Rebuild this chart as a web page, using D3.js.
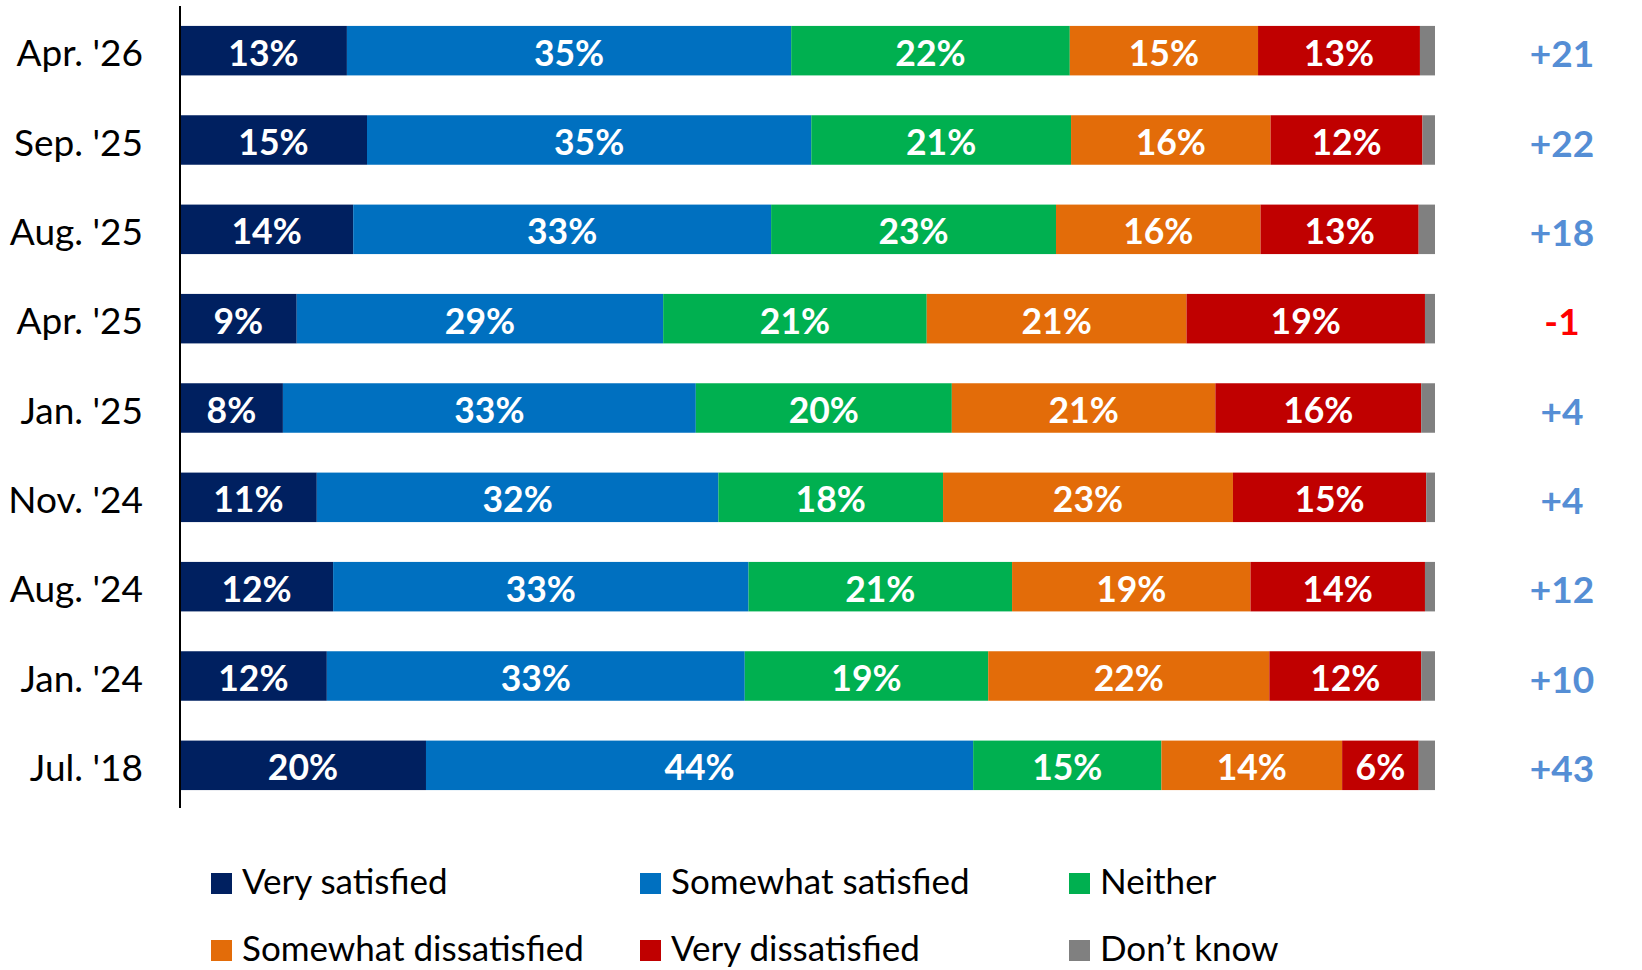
<!DOCTYPE html>
<html>
<head>
<meta charset="utf-8">
<script src="https://cdn.jsdelivr.net/npm/d3@7"></script>
<style>
  body { margin: 0; background: #fff; }
  svg { display: block; font-family: Lato, "Open Sans", sans-serif; }
</style>
</head>
<body>
<script>
// survey waves, newest first
const periods = ["Apr. '26", "Sep. '25", "Aug. '25", "Apr. '25", "Jan. '25", "Nov. '24", "Aug. '24", "Jan. '24", "Jul. '18"];

// shares in %
const verySatisfied        = [13.3, 14.9, 13.8,  9.3,  8.2, 10.9, 12.2, 11.7, 19.6];
const somewhatSatisfied    = [35.4, 35.4, 33.3, 29.2, 32.9, 32.0, 33.1, 33.3, 43.6];
const neither              = [22.2, 20.7, 22.7, 21.0, 20.4, 17.9, 21.0, 19.4, 15.0];
const somewhatDissatisfied = [15.0, 15.9, 16.3, 20.7, 21.0, 23.1, 19.0, 22.4, 14.4];
const veryDissatisfied     = [12.9, 12.1, 12.6, 19.0, 16.4, 15.4, 13.9, 12.1,  6.1];
const dontKnow             = [ 1.2,  1.0,  1.3,  0.8,  1.1,  0.7,  0.8,  1.1,  1.3];

// net satisfaction shown at the right
const netScores = [21, 22, 18, -1, 4, 4, 12, 10, 43];

const seriesNames = ["Very satisfied", "Somewhat satisfied", "Neither",
                     "Somewhat dissatisfied", "Very dissatisfied", "Don\u2019t know"];
const seriesColors = ["#002060", "#0070C0", "#00B050", "#E36C09", "#C00000", "#808080"];

const width = 1642, height = 970;

const rows = periods.map((p, i) => ({
  period: p,
  "Very satisfied": verySatisfied[i],
  "Somewhat satisfied": somewhatSatisfied[i],
  "Neither": neither[i],
  "Somewhat dissatisfied": somewhatDissatisfied[i],
  "Very dissatisfied": veryDissatisfied[i],
  "Don\u2019t know": dontKnow[i]
}));

const svg = d3.select("body").append("svg")
  .attr("width", width).attr("height", height)
  .attr("viewBox", [0, 0, width, height]);

const x = d3.scaleLinear().domain([0, 100]).range([180, 1435]);
const y = d3.scaleBand().domain(periods).range([6, 810])
  .paddingInner(0.446).paddingOuter(0.223);
const color = d3.scaleOrdinal().domain(seriesNames).range(seriesColors);

const stacked = d3.stack().keys(seriesNames)(rows);

// bars
const layer = svg.append("g").selectAll("g").data(stacked).join("g")
  .attr("fill", d => color(d.key));

layer.selectAll("rect").data(d => d).join("rect")
  .attr("x", d => x(d[0]))
  .attr("y", d => y(d.data.period))
  .attr("width", d => x(d[1]) - x(d[0]))
  .attr("height", y.bandwidth());

// value labels (not for don't know)
svg.append("g").selectAll("g").data(stacked.slice(0, 5)).join("g")
  .selectAll("text").data(d => d).join("text")
  .attr("x", d => (x(d[0]) + x(d[1])) / 2)
  .attr("y", d => y(d.data.period) + y.bandwidth() / 2)
  .attr("dy", "0.42em")
  .attr("text-anchor", "middle")
  .attr("fill", "#fff")
  .attr("font-weight", "bold")
  .attr("font-size", 35.5)
  .text(d => Math.round(d[1] - d[0]) + "%");

// category axis
const axis = svg.append("g").attr("transform", "translate(180,0)")
  .call(d3.axisLeft(y).tickSize(0).tickPadding(37));
axis.select(".domain").attr("d", "M0,6V808").attr("stroke", "#000").attr("stroke-width", 2);
axis.selectAll(".tick text")
  .attr("font-family", "Lato, sans-serif")
  .attr("font-size", 37)
  .attr("fill", "#000")
  .attr("dy", "0.42em");

// net scores
svg.append("g").selectAll("text").data(periods).join("text")
  .attr("x", 1562)
  .attr("y", d => y(d) + y.bandwidth() / 2)
  .attr("dy", "0.45em")
  .attr("text-anchor", "middle")
  .attr("font-weight", "bold")
  .attr("font-size", 37)
  .attr("fill", (d, i) => netScores[i] < 0 ? "#FF0000" : "#558ED5")
  .text((d, i) => (netScores[i] > 0 ? "+" : "") + netScores[i]);

// legend, 3 columns x 2 rows
const legend = svg.append("g").selectAll("g").data(seriesNames).join("g")
  .attr("transform", (d, i) => `translate(${[211, 640, 1069][i % 3]},${[873, 940][Math.floor(i / 3)]})`);

legend.append("rect")
  .attr("width", 21).attr("height", 21)
  .attr("fill", d => color(d));

legend.append("text")
  .attr("x", 31).attr("y", 21)
  .attr("font-size", 35)
  .attr("fill", "#000")
  .text(d => d);
</script>
</body>
</html>
